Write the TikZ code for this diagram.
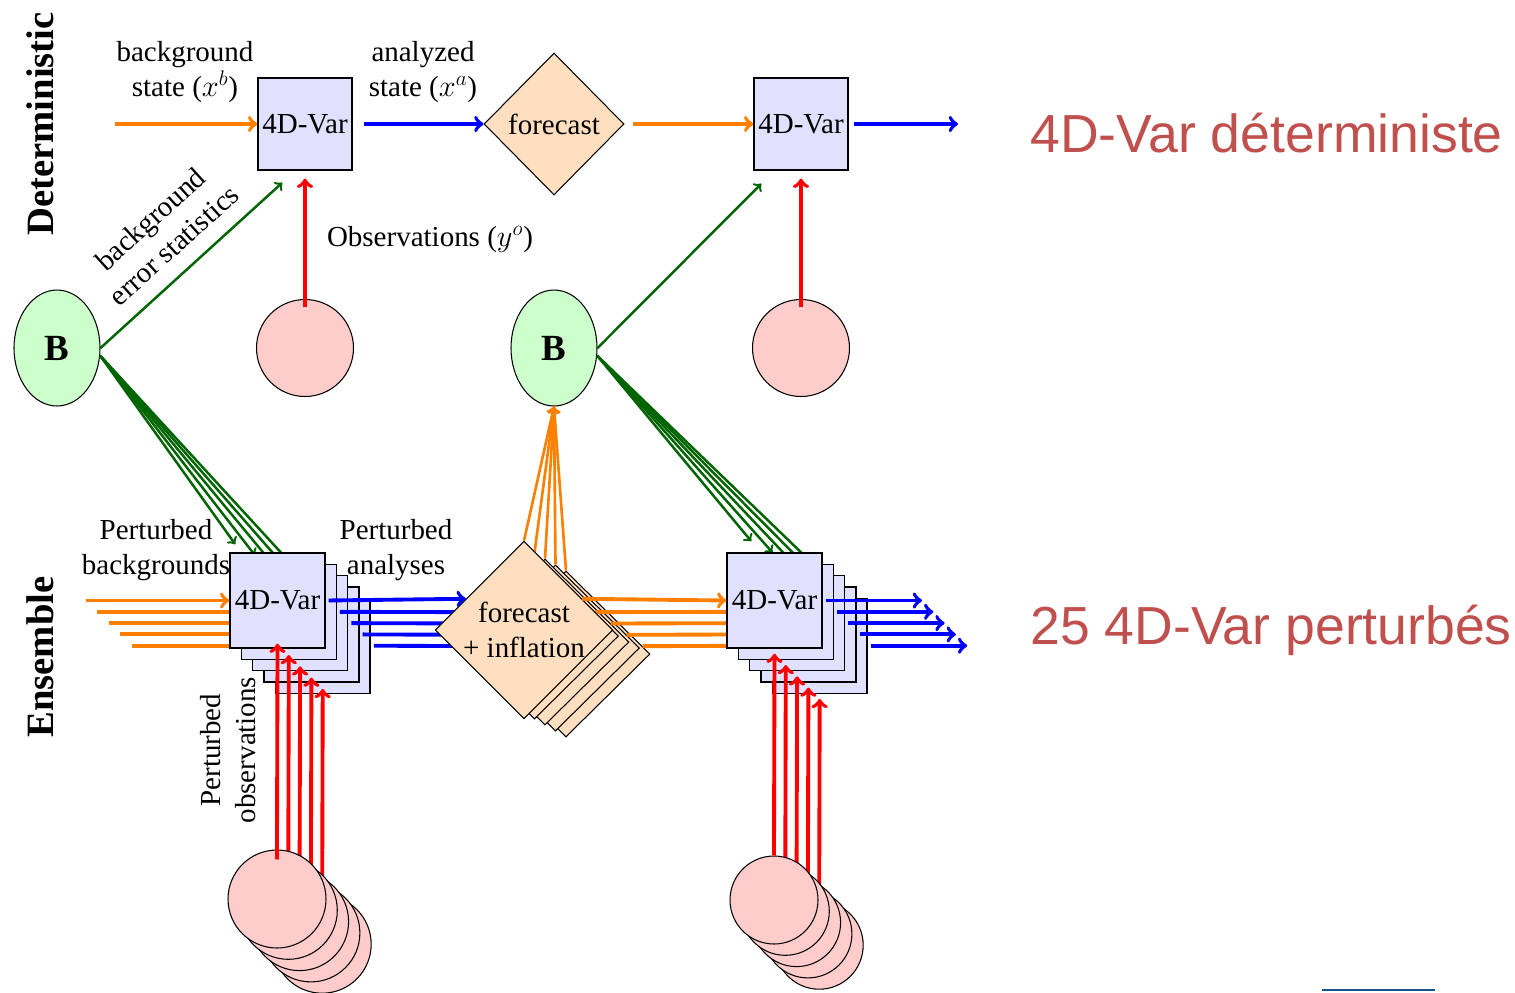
\documentclass[tikz,border=0pt]{standalone}
\usepackage{fontspec}
\setmainfont{Liberation Serif}
\newfontfamily\slidefont{Liberation Sans}
\usetikzlibrary{shapes.geometric,calc}
\definecolor{darkgreen}{RGB}{0,100,0}
\definecolor{slidered}{RGB}{192,80,77}
\definecolor{slideblue}{RGB}{26,84,144}

\tikzstyle{var} = [rectangle, minimum width=1.88cm, minimum height=1.84cm, inner sep=0pt, text centered, draw=black, fill=blue!12, line width=0.8pt]
\tikzstyle{evar} = [var, minimum width=1.9cm, minimum height=1.9cm]
\tikzstyle{fcst} = [diamond, minimum width=2.8cm, minimum height=2.84cm, inner sep=0pt, text centered, draw=black, fill=orange!25, line width=0.6pt]
\tikzstyle{efcst} = [fcst, minimum width=3.36cm, minimum height=3.32cm, align=center]
\tikzstyle{bmat} = [ellipse, minimum width=1.72cm, minimum height=2.32cm, inner sep=0pt, draw=black, fill=green!20, line width=0.6pt, font=\fontsize{21}{24}\selectfont\bfseries]
\tikzstyle{obs} = [circle, minimum size=1.94cm, inner sep=0pt, draw=black, fill=red!20, line width=0.6pt]
\tikzstyle{arrow} = [line width=2.2pt,->]
\tikzstyle{garrow} = [line width=1.4pt,->,draw=darkgreen]
\tikzstyle{note} = [align=center, inner sep=0pt]
\tikzstyle{rowname} = [rotate=90, inner sep=0pt, font=\fontsize{22}{26}\selectfont\bfseries]
\tikzstyle{slide} = [anchor=west, inner sep=0pt, text=slidered, font=\slidefont\fontsize{30.5}{36}\selectfont]

\begin{document}
\begin{tikzpicture}[x=0.02cm, y=-0.02cm, font=\fontsize{16.5}{20}\selectfont]
\useasboundingbox (0,0) rectangle (1515,992);

\node (det) [rowname] at (40,124) {Deterministic};
\node (ens) [rowname] at (40,657) {Ensemble};

\node (v1) [var] at (305,124) {4D-Var};
\node (f1) [fcst] at (554,124) {forecast};
\node (v2) [var] at (801,124) {4D-Var};
\node (b1) [bmat] at (57,348) {B};
\node (b2) [bmat] at (554,348) {B};
\node (o1) [obs] at (305,348) {};
\node (o2) [obs] at (801,348) {};
\coordinate (xb) at (115,124);
\coordinate (xa) at (958,124);

\draw [arrow, orange] (xb) -- (v1);
\draw [arrow, blue, shorten <=0.22cm] (v1) -- (f1);
\draw [arrow, orange, shorten <=0.16cm] (f1) -- (v2);
\draw [arrow, blue, shorten <=0.1cm] (v2) -- (xa);
\draw [arrow, red, shorten <=-0.16cm, shorten >=0.16cm] (o1.north) -- (v1.south);
\draw [arrow, red, shorten <=-0.16cm, shorten >=0.16cm] (o2.north) -- (v2.south);
\draw [garrow] (b1.east) -- ([shift={(25,12)}]v1.south west);
\draw [garrow] (b2.east) -- ([shift={(8,13)}]v2.south west);

\node (bgs) [note] at (185,72) {background\\state ($x^b$)};
\node (ans) [note] at (423,72) {analyzed\\state ($x^a$)};
\node (obl) [note] at (430,240) {Observations ($y^o$)};
\node (bes) [note, rotate=42] at (162,232) {background\\error statistics};

\foreach \k in {4,3,2,1,0} {
  \pgfmathsetmacro{\t}{(29-5.3*\k)/83}
  \node (va\k) [evar] at (277.5+11.3*\k, 600.5+11.3*\k) {\ifnum\k=0 4D-Var\fi};
  \node (fc\k) [efcst] at (524+10.5*\k, 630+6*\k) {\ifnum\k=0 forecast\\+ inflation\fi};
  \node (vb\k) [evar] at (774.5+11.3*\k, 600.5+11.3*\k) {\ifnum\k=0 4D-Var\fi};
  \node (oa\k) [obs, minimum size=1.96cm] at (277+11.3*\k, 899+11.3*\k) {};
  \node (ob\k) [obs, minimum size=1.76cm] at (774+11.3*\k, 900+11.3*\k) {};
  \coordinate (in\k) at (86+11.4*\k, 600.5+11.3*\k);
  \coordinate (out\k) at (922+11.3*\k, 600.5+11.3*\k);
  \coordinate (fw\k) at ($(fc\k.west)!\t!(fc\k.north)$);
  \coordinate (fe\k) at ($(fc\k.east)!\t!(fc\k.north)$);
  \draw [arrow, orange] (in\k) -- (va\k.west);
  \draw [arrow, blue, shorten <=0.06cm] (va\k.east) -- (fw\k);
  \draw [arrow, orange] (fe\k) -- (vb\k.west);
  \draw [arrow, blue, shorten <=0.06cm] (vb\k.east) -- (out\k);
  \draw [arrow, orange, line width=1.5pt] (fc\k.north) -- (b2.south);
  \draw [garrow] (b1.-10) -- ([shift={(6+8.6*\k,-8)}]va\k.north west);
  \draw [garrow] (b2.-10) -- ([shift={(25+10*\k,-11)}]vb\k.north west);
  \draw [arrow, red, shorten <=-0.2cm, shorten >=-0.1cm] (oa\k.north) -- (va\k.south);
  \draw [arrow, red, shorten >=0.1cm] (ob\k.north) -- (vb\k.south);
}

\node (pbg) [note] at (156,550) {Perturbed\\backgrounds};
\node (pan) [note] at (396,550) {Perturbed\\analyses};
\node (pob) [note, rotate=90] at (228,750) {Perturbed\\observations};

\node (tdet) [slide] at (1030,133) {4D-Var déterministe};
\node (tens) [slide] at (1030,630) {25 4D-Var perturbés};

\coordinate (ul1) at (1322,990);
\coordinate (ul2) at (1435,990);
\draw [slideblue, line width=1.2pt] (ul1) -- (ul2);
\end{tikzpicture}
\end{document}
